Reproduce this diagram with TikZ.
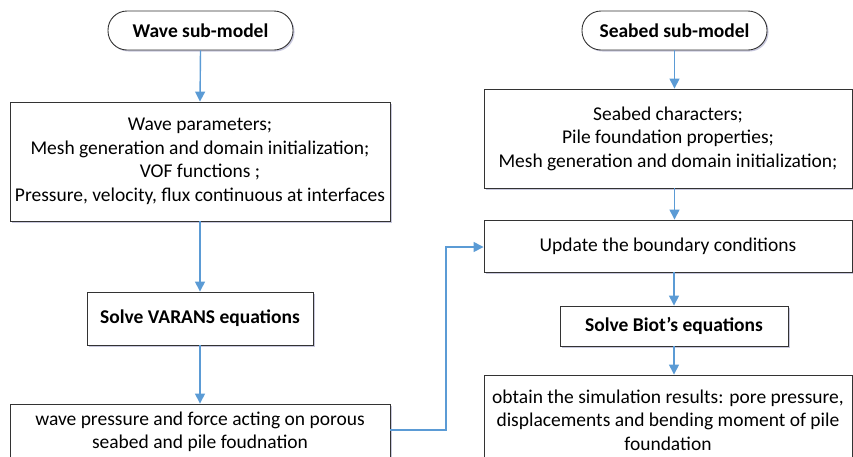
\documentclass[tikz,border=0pt]{standalone}
\usepackage{fontspec}
\setmainfont{Carlito}
\usetikzlibrary{arrows.meta,shadows}
\begin{document}
\begin{tikzpicture}[x=1pt,y=-1pt,
  base/.style={draw=black!80, line width=0.9pt, fill=white, align=center, inner sep=0pt,
    font=\fontsize{19.5}{23.5}\selectfont,
    drop shadow={shadow xshift=1.5pt, shadow yshift=-1.5pt, fill=blue!25!gray, opacity=0.35}},
  boxw/.style={base, rectangle},
  term/.style={base, rounded corners=19pt, font=\fontsize{19.5}{23.5}\selectfont\bfseries},
  bbox/.style={base, rectangle, font=\fontsize{19.5}{23.5}\selectfont\bfseries},
  conn/.style={color={rgb,255:red,91;green,155;blue,213}, line width=1.4pt, -{Triangle[length=10pt,width=10pt]}}
]
\useasboundingbox (0,0) rectangle (853,456);
\clip (0,0) rectangle (853,456);
% left column
\node[term, minimum width=185, minimum height=39] (wave) at (200.5,30.5) {Wave sub-model};
\node[boxw, minimum width=380, minimum height=119] (wparam) at (200,161.5)
  {Wave parameters;\\Mesh generation and domain initialization;\\VOF functions ;\\Pressure, velocity, flux continuous at interfaces};
\node[bbox, minimum width=226, minimum height=53] (varans) at (200,318.5) {Solve VARANS equations};
\node[boxw, minimum width=380, minimum height=56] (wpress) at (200,432)
  {wave pressure and force acting on porous\\seabed and pile foudnation};
% right column
\node[term, minimum width=185, minimum height=39] (seabed) at (674.5,30.5) {Seabed sub-model};
\node[boxw, minimum width=368, minimum height=99] (schar) at (668,138.5)
  {Seabed characters;\\Pile foundation properties;\\Mesh generation and domain initialization;};
\node[boxw, minimum width=368, minimum height=52] (update) at (668,246) {Update the boundary conditions};
\node[bbox, minimum width=228, minimum height=40] (biot) at (674,326) {Solve Biot’s equations};
\node[boxw, minimum width=368, minimum height=90] (obtain) at (668,420)
  {obtain the simulation results: pore pressure,\\displacements and bending moment of pile\\foundation};
\coordinate (jx) at (446,0);
% connectors
\draw[conn] (wave.south) -- (wparam.north);
\draw[conn] (wparam.south) -- (varans.north);
\draw[conn] (varans.south) -- (wpress.north);
\draw[conn] (seabed.south) -- (seabed.south |- schar.north);
\draw[conn] (schar.south -| seabed.south) -- (seabed.south |- update.north);
\draw[conn] (update.south -| biot.north) -- (biot.north);
\draw[conn] (biot.south) -- (biot.south |- obtain.north);
\draw[conn] (wpress.east |- 0,430) -- (jx |- 0,430) -- (jx |- 0,247) -- (update.west |- 0,247);
\end{tikzpicture}
\end{document}
